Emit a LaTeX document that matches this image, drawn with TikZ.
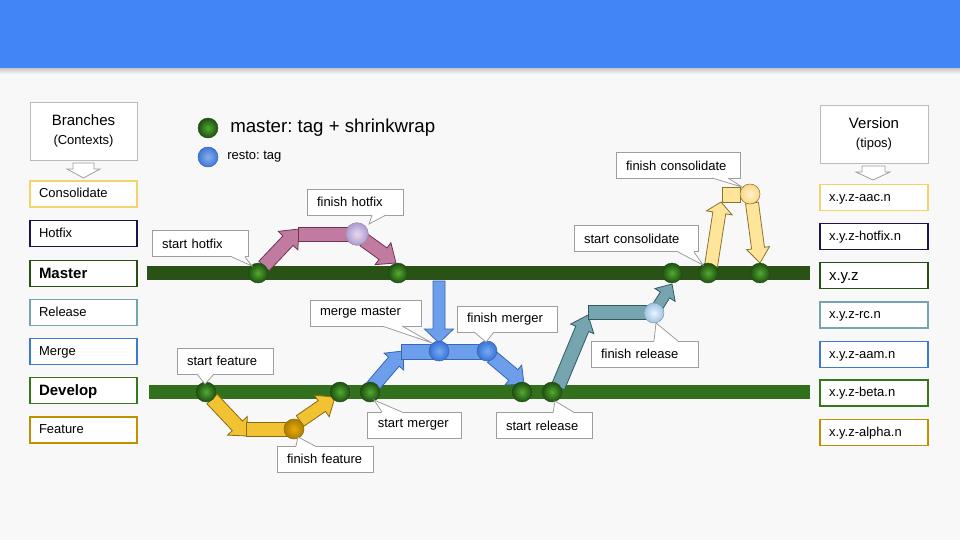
\documentclass[tikz,border=0pt]{standalone}
\usepackage{fontspec}
\setmainfont{Liberation Sans}
\usetikzlibrary{calc}
\frenchspacing
\definecolor{bgc}{HTML}{F8F8F8}
\definecolor{hdr}{HTML}{4285F4}
\definecolor{cgray}{HTML}{9E9E9E}
\definecolor{bcons}{HTML}{F3D36B}
\definecolor{bhot}{HTML}{20124D}
\definecolor{bmas}{HTML}{274E13}
\definecolor{brel}{HTML}{76A5AF}
\definecolor{bmer}{HTML}{3C78D8}
\definecolor{bdev}{HTML}{38761D}
\definecolor{bfea}{HTML}{BF9000}
\definecolor{barM}{HTML}{2A5216}
\definecolor{barD}{HTML}{33701D}
\definecolor{hotF}{HTML}{C27BA0}
\definecolor{hotD}{HTML}{6E3452}
\definecolor{feaF}{HTML}{F1C232}
\definecolor{feaD}{HTML}{8A6A10}
\definecolor{merF}{HTML}{6D9EEB}
\definecolor{merD}{HTML}{3A66B0}
\definecolor{relF}{HTML}{76A5AF}
\definecolor{relD}{HTML}{2F5A63}
\definecolor{conF}{HTML}{FFE599}
\definecolor{conD}{HTML}{8A7330}
\definecolor{gIn}{HTML}{52AA30}
\definecolor{gOut}{HTML}{1F4F12}
\tikzset{
  lbox/.style={draw=#1, fill=white, line width=0.8pt, minimum height=19.5pt,
    inner xsep=6.75pt, inner ysep=0pt, text width=66.75pt, align=left,
    text height=7pt, text depth=1.2pt,
    font=\fontsize{9.75}{11}\selectfont},
  rbox/.style={lbox=#1, text width=67.5pt},
  big/.style={font=\fontsize{11.25}{13}\selectfont, text height=8pt, text depth=1.2pt},
  bigbold/.style={font=\fontsize{11.25}{13}\selectfont\bfseries, text height=8pt, text depth=1.2pt},
  hbox/.style={draw=cgray!70, fill=white, line width=0.6pt, align=center,
    inner sep=0pt, font=\fontsize{11.25}{12.75}\selectfont},
  callout/.style={draw=cgray, fill=white, line width=0.6pt, minimum height=19.5pt,
    inner xsep=7.5pt, inner ysep=0pt, align=left, font=\fontsize{9.75}{11}\selectfont,
    execute at begin node={\hyphenpenalty=10000\exhyphenpenalty=10000}},
  gdot/.style={circle, minimum size=15pt, inner sep=0pt, draw=gOut, line width=0.3pt,
    inner color=gIn, outer color=gOut},
  cdot/.style n args={2}{circle, minimum size=15pt, inner sep=0pt, draw=#2, line width=0.4pt,
    inner color=#1!60!white, outer color=#1},
  hotA/.style={fill=hotF, draw=hotD, line width=0.6pt, line join=miter},
  feaA/.style={fill=feaF, draw=feaD, line width=0.6pt, line join=miter},
  merA/.style={fill=merF, draw=merD, line width=0.6pt, line join=miter},
  relA/.style={fill=relF, draw=relD, line width=0.6pt, line join=miter},
  conA/.style={fill=conF, draw=conD, line width=0.6pt, line join=miter},
  hollow/.style={fill=white, draw=cgray, line width=0.6pt},
}
% #1 style, #2 from, #3 to, #4 shaft width px, #5 head width px, #6 head length px
\newcommand\blockarrow[6]{%
  \coordinate (banck) at ($(#3)!#6*0.75pt!(#2)$);
  \draw[#1] ($(#2)!#4*0.375pt!90:(#3)$) -- ($(banck)!#4*0.375pt!90:(#3)$)
    -- ($(banck)!#5*0.375pt!90:(#3)$) -- (#3)
    -- ($(banck)!#5*0.375pt!-90:(#3)$) -- ($(banck)!#4*0.375pt!-90:(#3)$)
    -- ($(#2)!#4*0.375pt!-90:(#3)$) -- cycle;}
% #1 base1, #2 base2, #3 tip, #4 inward offset
\newcommand\pointer[4]{%
  \fill[white] ($(#1)+(#4)$) -- (#1) -- (#3) -- (#2) -- ($(#2)+(#4)$) -- cycle;
  \draw[draw=cgray, line width=0.6pt] (#1) -- (#3) -- (#2);}
\begin{document}
\begin{tikzpicture}[x=0.75pt,y=-0.75pt]
\useasboundingbox (0,0) rectangle (960,540);
\fill[bgc] (0,0) rectangle (960,540);
\shade[top color=black!22, bottom color=bgc] (0,68) rectangle (960,74);
\fill[hdr] (0,0) rectangle (960,68);

% ---- left column
\node[hbox, minimum width=80.25pt, minimum height=43.5pt] (branches) at (83.5,131)
  {Branches\\[1.5pt]{\fontsize{9.75}{11}\selectfont (Contexts)}};
\draw[hollow] (73,163) -- (94,163) -- (94,169) -- (100,169) -- (83.5,178) -- (67,169) -- (73,169) -- cycle;
\node[lbox=bcons] (lCons) at (83.5,194) {Consolidate};
\node[lbox=bhot] (lHot) at (83.5,233.5) {Hotfix};
\node[lbox=bmas, bigbold] (lMas) at (83.5,273.5) {Master};
\node[lbox=brel] (lRel) at (83.5,312.5) {Release};
\node[lbox=bmer] (lMer) at (83.5,351.5) {Merge};
\node[lbox=bdev, bigbold] (lDev) at (83.5,390.5) {Develop};
\node[lbox=bfea] (lFea) at (83.5,430) {Feature};

% ---- right column
\node[hbox, minimum width=81pt, minimum height=43.5pt] (version) at (874,134)
  {Version\\[1.5pt]{\fontsize{9.75}{11}\selectfont (tipos)}};
\draw[hollow] (862,166) -- (885,166) -- (885,172) -- (890,172) -- (873,180) -- (856,172) -- (862,172) -- cycle;
\node[rbox=bcons] (rCons) at (874,197.5) {x.y.z-aac.n};
\node[rbox=bhot] (rHot) at (874,236.5) {x.y.z-hotfix.n};
\node[rbox=bmas, big] (rMas) at (874,275.5) {x.y.z};
\node[rbox=brel] (rRel) at (874,315) {x.y.z-rc.n};
\node[rbox=bmer] (rMer) at (874,354.5) {x.y.z-aam.n};
\node[rbox=bdev] (rDev) at (874,393) {x.y.z-beta.n};
\node[rbox=bfea] (rFea) at (874,432.5) {x.y.z-alpha.n};

% ---- legend
\node[gdot] (lg1) at (208,128) {};
\node[anchor=west, inner sep=0pt, font=\fontsize{14}{16}\selectfont] (lgt1) at (230,128) {master: tag + shrinkwrap};
\node[cdot={bmer}{merD}] (lg2) at (208,157) {};
\node[anchor=west, inner sep=0pt, font=\fontsize{9.75}{11}\selectfont] (lgt2) at (227,157) {resto: tag};

% ---- bars
\fill[barM] (147,266) rectangle (810,280);
\fill[barD] (149,385) rectangle (810,399);

% ---- hotfix
\coordinate (hA1s) at (264,266); \coordinate (hA1e) at (299,229);
\blockarrow{hotA}{hA1s}{hA1e}{14}{27}{16}
\draw[hotA] (298,227) rectangle (349,241);
\coordinate (hA2s) at (364,240); \coordinate (hA2e) at (396,263);
\blockarrow{hotA}{hA2s}{hA2e}{14}{27}{16}
\node[circle, minimum size=17pt, inner sep=0pt, draw=hotD!60, line width=0.4pt, inner color=white!85!violet, outer color={rgb,255:red,170;green,155;blue,210}] (hotC) at (357,234) {};

% ---- feature
\coordinate (fA1s) at (212,399); \coordinate (fA1e) at (247,436);
\blockarrow{feaA}{fA1s}{fA1e}{14}{27}{14}
\draw[feaA] (246,422) rectangle (288,436);
\coordinate (fA2s) at (300,421); \coordinate (fA2e) at (335,397);
\blockarrow{feaA}{fA2s}{fA2e}{13}{26}{16}
\node[circle, minimum size=15pt, inner sep=0pt, draw=feaD, line width=0.4pt, inner color={rgb,255:red,230;green,170;blue,10}, outer color={rgb,255:red,170;green,125;blue,0}] (feaC) at (294,429) {};

% ---- merge
\coordinate (mA1s) at (373,386); \coordinate (mA1e) at (403,351);
\blockarrow{merA}{mA1s}{mA1e}{14}{26}{14}
\draw[merA] (401,344) rectangle (487,359);
\coordinate (mDs) at (439,281); \coordinate (mDe) at (439,343);
\blockarrow{merA}{mDs}{mDe}{12}{29}{14}
\coordinate (mA2s) at (492,357); \coordinate (mA2e) at (524,384);
\blockarrow{merA}{mA2s}{mA2e}{14}{26}{14}
\node[circle, minimum size=15pt, inner sep=0pt, draw=merD, line width=0.4pt, inner color={rgb,255:red,120;green,170;blue,245}, outer color={rgb,255:red,55;green,115;blue,215}] (merC1) at (439,351) {};
\node[circle, minimum size=15pt, inner sep=0pt, draw=merD, line width=0.4pt, inner color={rgb,255:red,120;green,170;blue,245}, outer color={rgb,255:red,55;green,115;blue,215}] (merC2) at (487,351) {};

% ---- release
\coordinate (rA1s) at (558,387); \coordinate (rA1e) at (588,315);
\blockarrow{relA}{rA1s}{rA1e}{14}{25}{15}
\draw[relA] (588,305) rectangle (646,319);
\coordinate (rA2s) at (658,306); \coordinate (rA2e) at (672,284);
\blockarrow{relA}{rA2s}{rA2e}{11}{24}{13}
\node[circle, minimum size=15pt, inner sep=0pt, draw=relD!60, line width=0.4pt, inner color={rgb,255:red,235;green,243;blue,252}, outer color={rgb,255:red,160;green,195;blue,230}] (relC) at (654,313) {};

% ---- consolidate
\coordinate (cA1s) at (711,266); \coordinate (cA1e) at (721,202);
\blockarrow{conA}{cA1s}{cA1e}{13}{26}{11}
\draw[conA] (722,187) rectangle (740,202);
\coordinate (cA2s) at (752,203); \coordinate (cA2e) at (760,263);
\blockarrow{conA}{cA2s}{cA2e}{13}{23}{15}
\node[circle, minimum size=15pt, inner sep=0pt, draw=conD, line width=0.4pt, inner color={rgb,255:red,255;green,242;blue,210}, outer color={rgb,255:red,250;green,215;blue,130}] (conC) at (750,194) {};

% ---- commit dots
\node[gdot] (dM1) at (258,273) {};
\node[gdot] (dM2) at (398,273) {};
\node[gdot] (dM3) at (672,273) {};
\node[gdot] (dM4) at (708,273) {};
\node[gdot] (dM5) at (760,273) {};
\node[gdot] (dD1) at (206,392) {};
\node[gdot] (dD2) at (340,392) {};
\node[gdot] (dD3) at (370,392) {};
\node[gdot] (dD4) at (522,392) {};
\node[gdot] (dD5) at (552,392) {};

% ---- callouts
\node[callout, text width=57pt] (cSH) at (200,243.5) {start hotfix};
\pointer{232,257}{245,257}{252,266}{0,-1.5}
\node[callout, text width=57pt] (cFH) at (355,202) {finish hotfix};
\pointer{372,215}{386,215}{369,224}{0,-1.5}
\node[callout, text width=57pt] (cSF) at (225,361) {start feature};
\pointer{197,374}{214,374}{205,384}{0,-1.5}
\node[callout, text width=57pt] (cFF) at (325,459) {finish feature};
\pointer{296,446}{315,446}{298,437}{0,1.5}
\node[callout, text width=68.25pt] (cMM) at (365.5,313) {merge master};
\pointer{382,326}{402,326}{432,343}{0,-1.5}
\node[callout, text width=60pt] (cFM) at (507,319) {finish merger};
\pointer{474,332}{494,332}{486,342}{0,-1.5}
\node[callout, text width=55pt] (cSM) at (414.5,425) {start merger};
\pointer{382,412}{402,412}{374,400}{0,1.5}
\node[callout, text width=57pt] (cSR) at (544,425.5) {start release};
\pointer{553,413}{575,413}{555,401}{0,1.5}
\node[callout, text width=65.25pt] (cFR) at (644.5,354) {finish release};
\pointer{654,341}{678,341}{656,323}{0,1.5}
\node[callout, text width=78pt] (cSC) at (636,238.5) {start consolidate};
\pointer{678,252}{694,252}{703,265}{0,-1.5}
\node[callout, text width=78pt] (cFC) at (678,165.5) {finish consolidate};
\pointer{712,178}{728,178}{742,187}{0,-1.5}
\end{tikzpicture}
\end{document}
